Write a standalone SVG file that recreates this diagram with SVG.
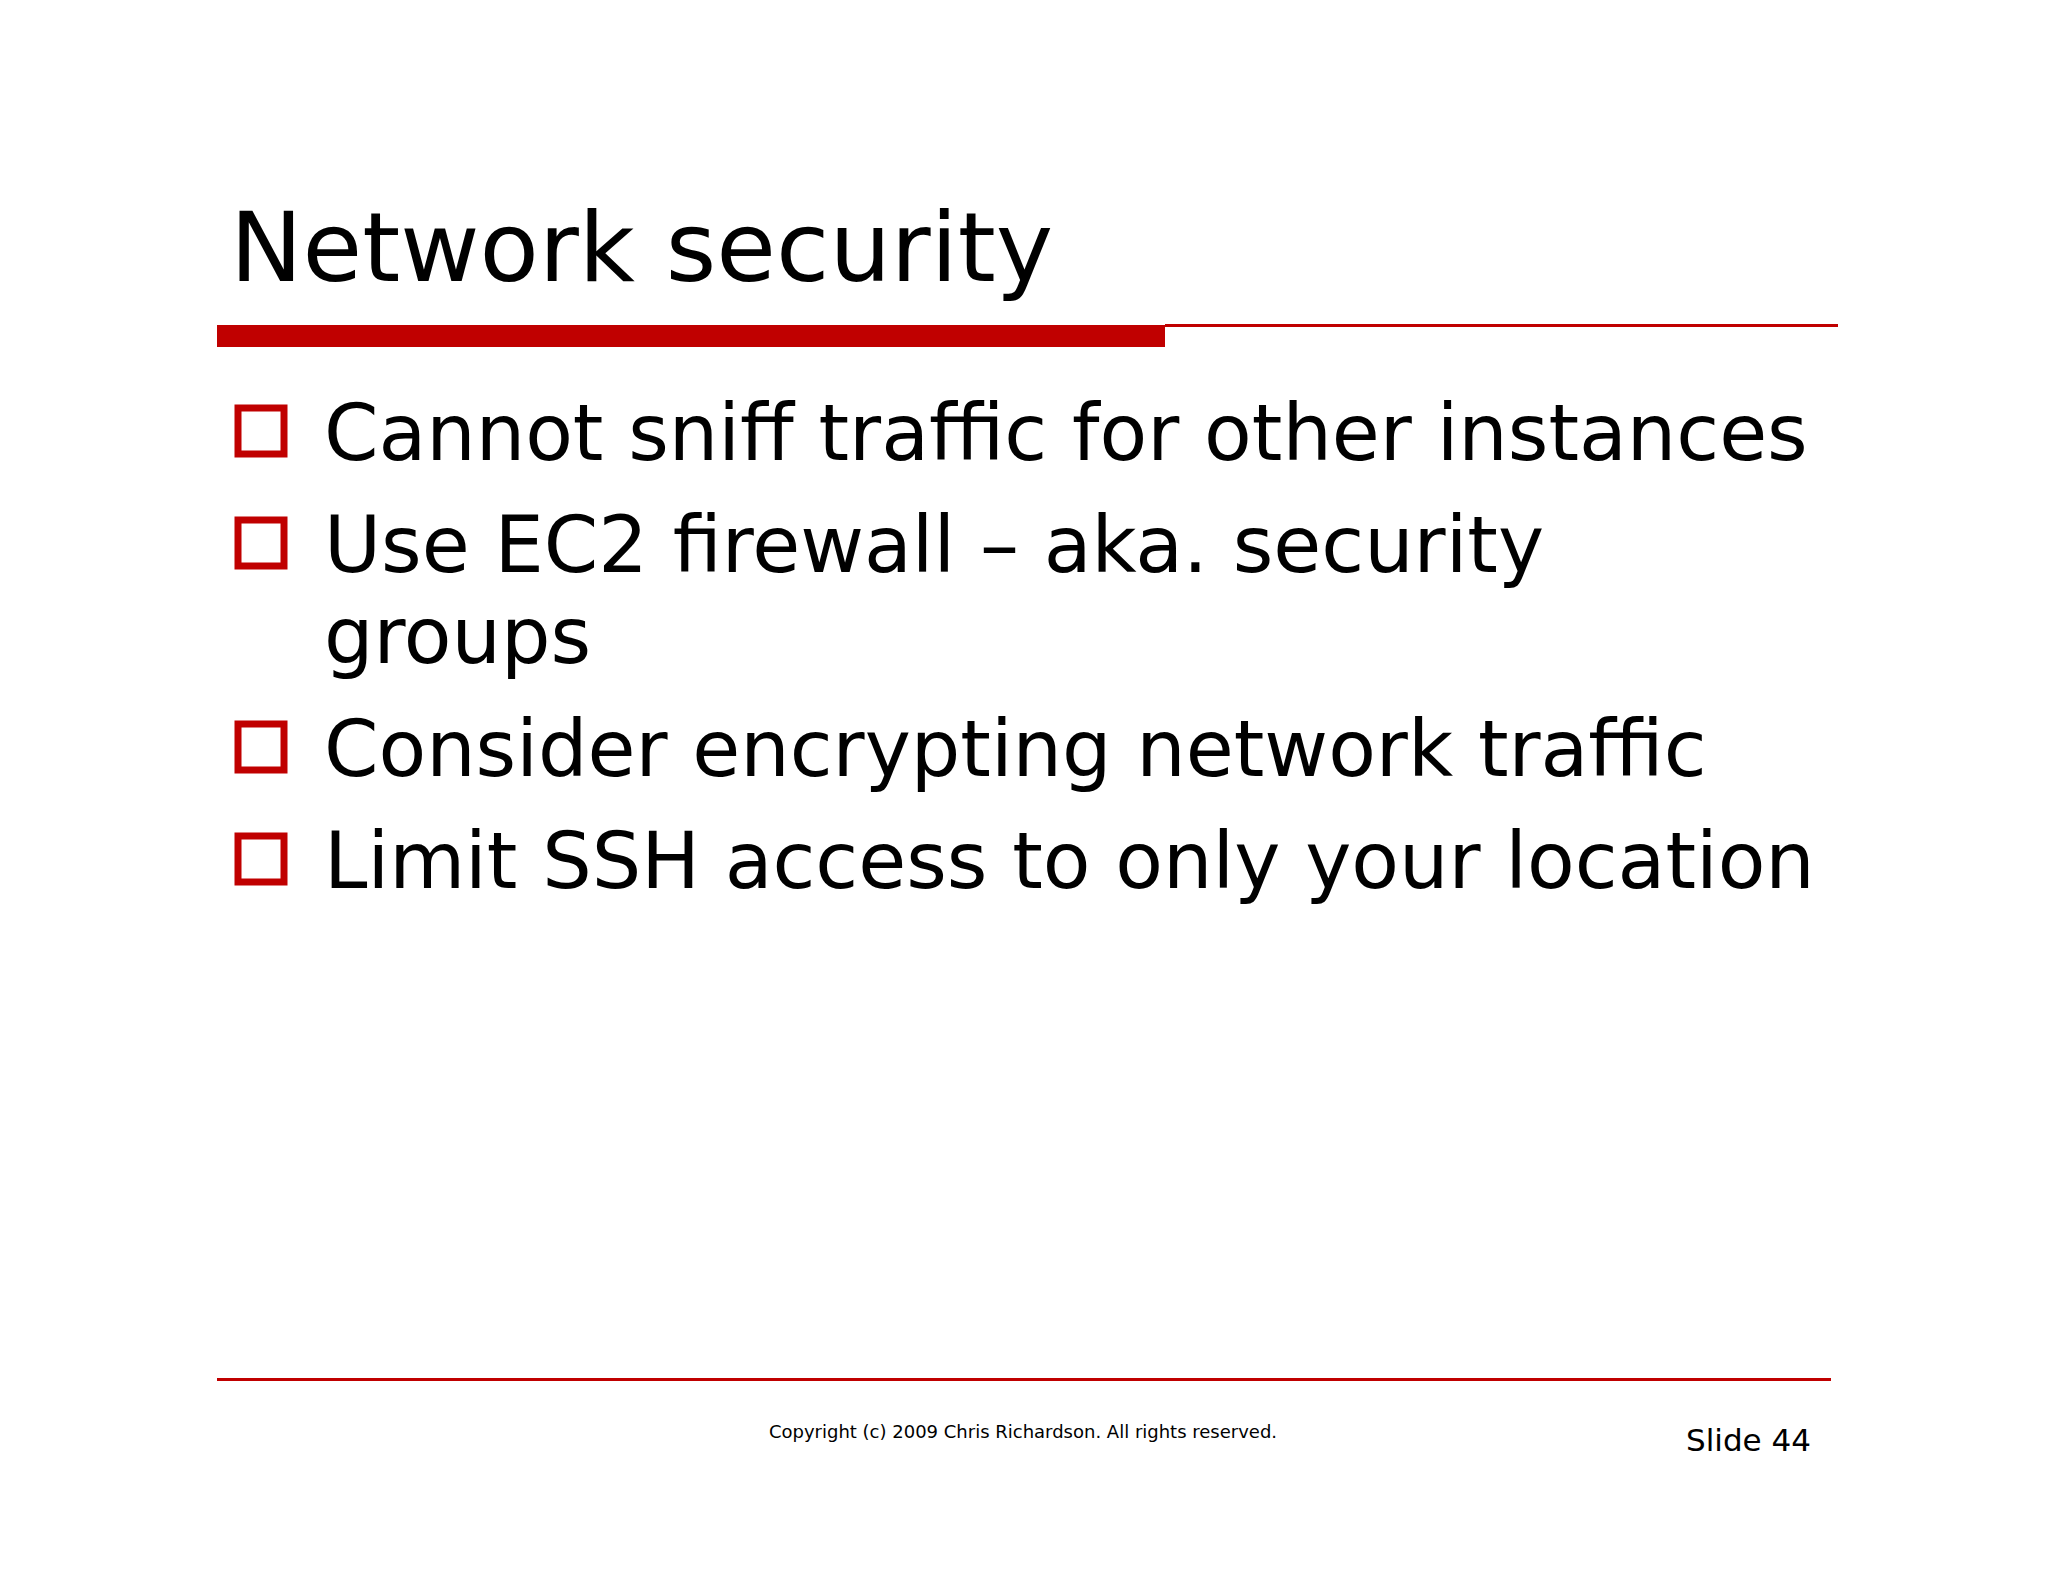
<svg xmlns="http://www.w3.org/2000/svg" width="2048" height="1582" viewBox="0 0 2048 1582">
<style>
.t{font-family:"DejaVu Sans",Verdana,sans-serif;fill:#000}
.b{font-size:78px}
.bx{fill:none;stroke:#c00000;stroke-width:7}
</style>
<rect width="2048" height="1582" fill="#fff"/>
<g id="title">
<text class="t" x="230" y="281" font-size="97">Network security</text>
<rect x="217" y="325" width="948" height="22" fill="#c00000"/>
<rect x="1165" y="324" width="673" height="3" fill="#c00000"/>
</g>
<g id="bullets">
<rect class="bx" x="238" y="408" width="46" height="46"/>
<text class="t b" x="324" y="460">Cannot sniff traffic for other instances</text>
<rect class="bx" x="238" y="520" width="46" height="46"/>
<text class="t b" x="324" y="572">Use EC2 firewall – aka. security</text>
<text class="t b" x="324" y="663">groups</text>
<rect class="bx" x="238" y="724" width="46" height="46"/>
<text class="t b" x="324" y="776">Consider encrypting network traffic</text>
<rect class="bx" x="238" y="836" width="46" height="46"/>
<text class="t b" x="324" y="888">Limit SSH access to only your location</text>
</g>
<g id="footer">
<rect x="217" y="1378" width="1614" height="3" fill="#c00000"/>
<text class="t" x="1023" y="1438" font-size="18" text-anchor="middle">Copyright (c) 2009 Chris Richardson. All rights reserved.</text>
<text class="t" x="1811" y="1451" font-size="31" text-anchor="end">Slide 44</text>
</g>
</svg>
